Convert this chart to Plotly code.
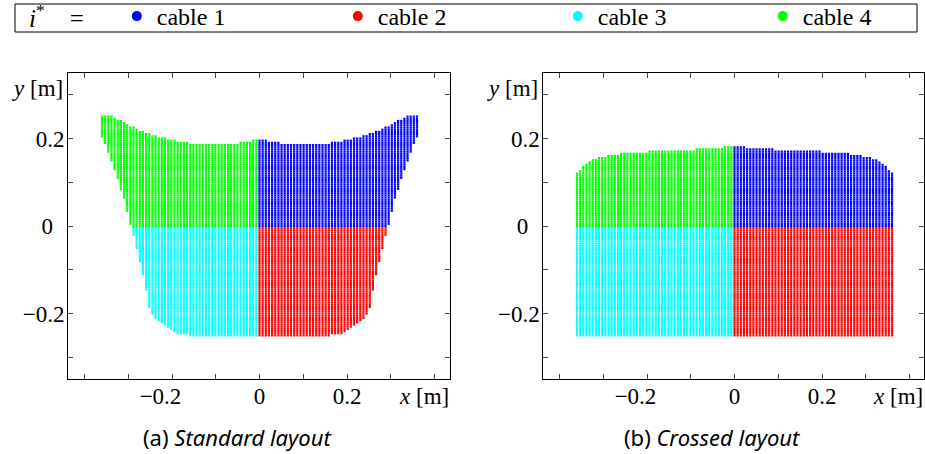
import numpy as np
import plotly.graph_objects as go

# ---------------- data ----------------
# regular sampling lattice of the workspace (101 x 101 grid)
X_GRID_MIN, X_GRID_MAX, N_COLS = -0.36, 0.36, 101
Y_GRID_MIN, Y_GRID_MAX, N_ROWS = -0.25, 0.25, 101

# per-column upper / lower y-limits [m] of the feasible region, standard layout
STD_TOP = [
    0.25, 0.25, 0.25, 0.25, 0.245, 0.24, 0.24, 0.235, 0.23, 0.225,
    0.225, 0.22, 0.215, 0.215, 0.21, 0.21, 0.205, 0.205, 0.2, 0.2,
    0.2, 0.195, 0.195, 0.195, 0.19, 0.19, 0.19, 0.19, 0.185, 0.185,
    0.185, 0.185, 0.185, 0.185, 0.185, 0.185, 0.185, 0.185, 0.185, 0.185,
    0.185, 0.185, 0.185, 0.185, 0.19, 0.19, 0.19, 0.19, 0.195, 0.195,
    0.195,
    0.195, 0.195, 0.19, 0.19, 0.19, 0.19, 0.185, 0.185, 0.185, 0.185,
    0.185, 0.185, 0.185, 0.185, 0.185, 0.185, 0.185, 0.185, 0.185, 0.185,
    0.185, 0.185, 0.19, 0.19, 0.19, 0.19, 0.195, 0.195, 0.195, 0.2,
    0.2, 0.2, 0.205, 0.205, 0.21, 0.21, 0.215, 0.215, 0.22, 0.225,
    0.225, 0.23, 0.235, 0.24, 0.24, 0.245, 0.25, 0.25, 0.25, 0.25,
]
STD_BOTTOM = [
    0.205, 0.19, 0.17, 0.15, 0.13, 0.11, 0.085, 0.065, 0.035, 0.005,
    -0.02, -0.05, -0.08, -0.11, -0.145, -0.185, -0.2, -0.21, -0.215, -0.22,
    -0.225, -0.23, -0.235, -0.24, -0.245, -0.245, -0.245, -0.245, -0.25, -0.25,
    -0.25, -0.25, -0.25, -0.25, -0.25, -0.25, -0.25, -0.25, -0.25, -0.25,
    -0.25, -0.25, -0.25, -0.25, -0.25, -0.25, -0.25, -0.25, -0.25, -0.25,
    -0.25,
    -0.25, -0.25, -0.25, -0.25, -0.25, -0.25, -0.25, -0.25, -0.25, -0.25,
    -0.25, -0.25, -0.25, -0.25, -0.25, -0.25, -0.25, -0.25, -0.25, -0.25,
    -0.25, -0.25, -0.245, -0.245, -0.245, -0.245, -0.24, -0.235, -0.23, -0.225,
    -0.22, -0.215, -0.21, -0.2, -0.185, -0.145, -0.11, -0.08, -0.05, -0.02,
    0.005, 0.035, 0.065, 0.085, 0.11, 0.13, 0.15, 0.17, 0.19, 0.205,
]
# crossed layout
CROSS_TOP = [
    0.12, 0.125, 0.135, 0.14, 0.145, 0.15, 0.15, 0.155, 0.155, 0.155,
    0.16, 0.16, 0.16, 0.16, 0.165, 0.165, 0.165, 0.165, 0.165, 0.165,
    0.165, 0.165, 0.165, 0.17, 0.17, 0.17, 0.17, 0.17, 0.17, 0.17,
    0.17, 0.17, 0.17, 0.17, 0.17, 0.17, 0.17, 0.17, 0.175, 0.175,
    0.175, 0.175, 0.175, 0.175, 0.175, 0.175, 0.175, 0.18, 0.18, 0.18,
    0.18,
    0.18, 0.18, 0.18, 0.175, 0.175, 0.175, 0.175, 0.175, 0.175, 0.175,
    0.175, 0.175, 0.17, 0.17, 0.17, 0.17, 0.17, 0.17, 0.17, 0.17,
    0.17, 0.17, 0.17, 0.17, 0.17, 0.17, 0.17, 0.165, 0.165, 0.165,
    0.165, 0.165, 0.165, 0.165, 0.165, 0.165, 0.16, 0.16, 0.16, 0.16,
    0.155, 0.155, 0.155, 0.15, 0.15, 0.145, 0.14, 0.135, 0.125, 0.12,
]
CROSS_BOTTOM = [-0.25] * 101

CABLE_NAMES = ["cable 1", "cable 2", "cable 3", "cable 4"]
CABLE_COLORS = ["#0000ff", "#ff0000", "#00ffff", "#00ff00"]

TICK_VALS = [-0.4, -0.3, -0.2, -0.1, 0.0, 0.1, 0.2, 0.3, 0.4]
TICK_TEXT = ["", "", "\u22120.2\u2003", "", "0", "", "0.2", "", ""]
YTICK_VALS = [-0.3, -0.2, -0.1, 0.0, 0.1, 0.2, 0.3]
YTICK_TEXT = ["", "\u22120.2", "", "0\u2002", "", "0.2", ""]
LABELED_X = [-0.2, 0.0, 0.2]
LABELED_Y = [-0.2, 0.0, 0.2]

CAPTIONS = ["(a) <i>Standard layout</i>", "(b) <i>Crossed layout</i>"]

# ---------------- build points ----------------
xs = np.round(np.linspace(X_GRID_MIN, X_GRID_MAX, N_COLS), 6)
ys = np.round(np.linspace(Y_GRID_MIN, Y_GRID_MAX, N_ROWS), 6)


def region_points(top, bottom):
    groups = {k: ([], []) for k in range(4)}
    for i, x in enumerate(xs):
        for y in ys:
            if bottom[i] - 1e-9 <= y <= top[i] + 1e-9:
                if x >= 0 and y >= 0:
                    k = 0
                elif x >= 0:
                    k = 1
                elif y < 0:
                    k = 2
                else:
                    k = 3
                groups[k][0].append(x)
                groups[k][1].append(y)
    return groups


fig = go.Figure()
SERIF = "Liberation Serif"

for (top, bot), (xa, ya) in [((STD_TOP, STD_BOTTOM), ("x", "y")),
                             ((CROSS_TOP, CROSS_BOTTOM), ("x2", "y2"))]:
    g = region_points(top, bot)
    for k in range(4):
        fig.add_trace(go.Scatter(
            x=g[k][0], y=g[k][1], xaxis=xa, yaxis=ya, mode="markers",
            marker=dict(symbol="square", size=2.2, color=CABLE_COLORS[k], line_width=0),
            showlegend=False, hoverinfo="skip"))

LEGEND_WIDTHS = [176, 175, 160, 100]
for k in range(4):
    fig.add_trace(go.Scatter(
        x=[None], y=[None], mode="markers", name=CABLE_NAMES[k],
        marker=dict(symbol="circle", size=10, color=CABLE_COLORS[k]),
        legendwidth=LEGEND_WIDTHS[k]))

W, H = 925, 454


def px_x(p):
    return p / W


def px_y(p):
    return 1 - p / H


axis_common = dict(showline=True, linecolor="black", linewidth=1, mirror="allticks",
                   ticks="inside", ticklen=5, tickwidth=1, tickcolor="#444",
                   showgrid=False, zeroline=False, automargin=False,
                   tickfont=dict(family=SERIF, size=23, color="black"))
over_common = dict(showline=False, ticks="outside", ticklen=4, tickwidth=1, tickcolor="#444",
                   showgrid=False, zeroline=False, automargin=False, showticklabels=False)
ydom = [px_y(379), px_y(73)]
yrange = [-0.3497, 0.3497]
xdom1, xr1 = [px_x(68), px_x(450)], [-0.4377, 0.4354]
xdom2, xr2 = [px_x(543.3), px_x(924)], [-0.437, 0.4331]

fig.update_layout(
    width=W, height=H, margin=dict(l=0, r=0, t=0, b=0, autoexpand=False),
    paper_bgcolor="white", plot_bgcolor="white",
    xaxis=dict(domain=xdom1, range=xr1, tickvals=TICK_VALS, ticktext=TICK_TEXT,
               anchor="y", ticklabelstandoff=-4, **axis_common),
    yaxis=dict(domain=ydom, range=yrange, tickvals=YTICK_VALS, ticktext=YTICK_TEXT,
               anchor="x", ticklabelstandoff=-2, **axis_common),
    xaxis2=dict(domain=xdom2, range=xr2, tickvals=TICK_VALS, ticktext=TICK_TEXT,
                anchor="y2", ticklabelstandoff=-4, **axis_common),
    yaxis2=dict(domain=ydom, range=yrange, tickvals=YTICK_VALS, ticktext=YTICK_TEXT,
                anchor="x2", ticklabelstandoff=-2, **axis_common),
    # outward halves of the labelled ticks
    xaxis3=dict(domain=xdom1, range=xr1, overlaying="x", anchor="y", side="bottom",
                tickvals=LABELED_X, **over_common),
    yaxis3=dict(domain=ydom, range=yrange, overlaying="y", anchor="x", side="left",
                tickvals=LABELED_Y, **over_common),
    xaxis4=dict(domain=xdom2, range=xr2, overlaying="x2", anchor="y2", side="bottom",
                tickvals=LABELED_X, **over_common),
    yaxis4=dict(domain=ydom, range=yrange, overlaying="y2", anchor="x2", side="left",
                tickvals=LABELED_Y, **over_common),
    legend=dict(orientation="h", x=px_x(27), xanchor="left", y=1 + 6 / H, yanchor="top",
                font=dict(family=SERIF, size=24, color="black"),
                title=dict(text="<i>i</i><sup>*</sup>\u2003=\u2003",
                           side="left",
                           font=dict(family=SERIF, size=25, color="black")),
                bgcolor="rgba(0,0,0,0)", borderwidth=0),
    shapes=[dict(type="rect", xref="paper", yref="paper",
                 x0=px_x(15), x1=px_x(917), y0=px_y(32), y1=px_y(4),
                 line=dict(color="black", width=1))],
    showlegend=True,
)

ann = []
for cx in (37, 512):
    ann.append(dict(text="<i>y</i> [m]", x=px_x(cx), y=px_y(89)))
for cx in (424, 898):
    ann.append(dict(text="<i>x</i> [m]", x=px_x(cx), y=px_y(396)))
for a in ann:
    a.update(font=dict(family=SERIF, size=23, color="black"))
for cx, txt in zip((237, 712), CAPTIONS):
    ann.append(dict(text=txt, x=px_x(cx), y=px_y(437),
                    font=dict(family="Noto Sans", size=22, color="black")))
for a in ann:
    a.update(xref="paper", yref="paper", xanchor="center", yanchor="middle", showarrow=False)
fig.update_layout(annotations=ann)

fig.write_html("out.html", config={"displayModeBar": False},
               post_script="document.body.style.margin='0px';")
